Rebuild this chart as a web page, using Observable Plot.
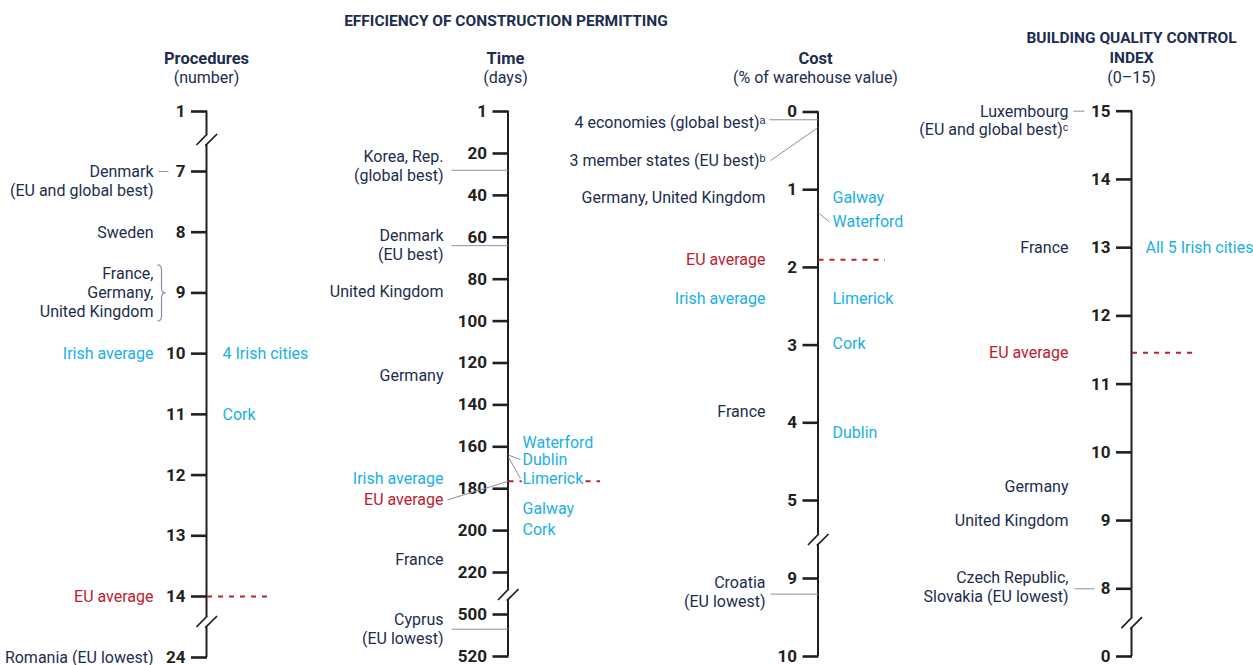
<!DOCTYPE html>
<html><head><meta charset="utf-8">
<script src="https://cdn.jsdelivr.net/npm/d3@7"></script>
<script src="https://cdn.jsdelivr.net/npm/@observablehq/plot@0.6"></script>
<style>
html,body{margin:0;padding:0;background:#fff;}
#chart{position:relative;width:1253px;height:665px;}
#chart svg{position:absolute;left:0;top:0;}
</style></head><body><div id="chart"></div>
<script>
// ================= DATA =================
const chartTitle = "EFFICIENCY OF CONSTRUCTION PERMITTING";
const panelTitles = ["Procedures", "Time", "Cost", "BUILDING QUALITY CONTROL\nINDEX"];
const panelUnits = ["(number)", "(days)", "(% of warehouse value)", "(0–15)"];

// Procedures (number)
const procTicks = [1, 7, 8, 9, 10, 11, 12, 13, 14, 24];
const procLeftText = ["Denmark\n(EU and global best)", "Sweden", "France,\nGermany,\nUnited Kingdom", "Irish average", "EU average", "Romania (EU lowest)"];
const procLeftValue = [7, 8, 9, 10, 14, 24];
const procLeftKind = ["economy", "economy", "economy", "irish", "eu", "economy"];
const procRightText = ["4 Irish cities", "Cork"];
const procRightValue = [10, 11];
const procEUAverage = 14;

// Time (days)
const timeTicks = [1, 20, 40, 60, 80, 100, 120, 140, 160, 180, 200, 220, 500, 520];
const timeLeftText = ["Korea, Rep.\n(global best)", "Denmark\n(EU best)", "United Kingdom", "Germany", "Irish average", "EU average", "France", "Cyprus\n(EU lowest)"];
const timeLeftValue = [28, 64, 86, 126, 175, 176.5, 214, 507];
const timeLeftKind = ["economy", "economy", "economy", "economy", "irish", "eu", "economy", "economy"];
const timeRightText = ["Waterford", "Dublin", "Limerick", "Galway", "Cork"];
const timeRightValue = [158, 164, 165, 190, 200];
const timeEUAverage = 176.5;

// Cost (% of warehouse value)
const costTicks = [0, 1, 2, 3, 4, 5, 9, 10];
const costLeftText = ["4 economies (global best)ᵃ", "3 member states (EU best)ᵇ", "Germany, United Kingdom", "EU average", "Irish average", "France", "Croatia\n(EU lowest)"];
const costLeftValue = [0.1, 0.2, 1.1, 1.9, 2.4, 3.9, 9.2];
const costLeftKind = ["economy", "economy", "economy", "eu", "irish", "economy", "economy"];
const costRightText = ["Galway", "Waterford", "Limerick", "Cork", "Dublin"];
const costRightValue = [1.1, 1.3, 2.4, 3.0, 4.1];
const costEUAverage = 1.9;

// Building quality control index (0–15)
const qualTicks = [15, 14, 13, 12, 11, 10, 9, 8, 0];
const qualLeftText = ["Luxembourg\n(EU and global best)ᶜ", "France", "EU average", "Germany", "United Kingdom", "Czech Republic,\nSlovakia (EU lowest)"];
const qualLeftValue = [15, 13, 11.46, 9.5, 9, 8];
const qualLeftKind = ["economy", "economy", "eu", "economy", "economy", "economy"];
const qualRightText = ["All 5 Irish cities"];
const qualRightValue = [13];
const qualEUAverage = 11.46;

// ================= LAYOUT / STYLE =================
const W = 1253, H = 665;
const FONT = "Roboto, 'Liberation Sans', sans-serif";
const FS = 16, LH = 19, TFS = 17;
const NAVY = "#1c2d4f", INK = "#231f20", BLUE = "#1aafe6", RED = "#c0202e", GREY = "#8a8ea6";
const kindColor = {economy: NAVY, irish: BLUE, eu: RED};

// each axis: break points (domain) and where they sit on the page (range)
const panels = [
  {
    ticks: procTicks, leftText: procLeftText, leftValue: procLeftValue, leftKind: procLeftKind,
    rightText: procRightText, rightValue: procRightValue, eu: procEUAverage,
    title: panelTitles[0], unit: panelUnits[0],
    L: {axisX: 206, headX: 206, leftX: 153, rightX: 222, domain: [1, 7, 14, 24], range: [111, 171, 596, 657],
        breaks: [3.8, 18.1], euEnd: 273,
        leftAnchor: ["first", "center", "center", "center", "center", "center"], leftDy: [0, 0, 0, 0, 0, 0], rightDy: [0, 0],
        leaders: [{side: "left", i: 0, x1: 158, x2: 168, diag: false}],
        brace: {value: 9, x: 161}}
  },
  {
    ticks: timeTicks, leftText: timeLeftText, leftValue: timeLeftValue, leftKind: timeLeftKind,
    rightText: timeRightText, rightValue: timeRightValue, eu: timeEUAverage,
    title: panelTitles[1], unit: panelUnits[1], mainTitle: chartTitle,
    L: {axisX: 507.5, headX: 505, leftX: 443, rightX: 522, domain: [1, 20, 220, 500, 520], range: [111, 153, 572, 614, 656],
        breaks: [366.7], euEnd: 600,
        leftAnchor: ["center", "center", "center", "center", "center", "center", "center", "center"],
        leftDy: [-4, 0, 0, 0, 0, 18.5, 0, 0], rightDy: [0, 4.3, 21.2, -1, -1],
        leaders: [
          {side: "left", i: 0, x1: 451, x2: 507.5, diag: false},
          {side: "left", i: 1, x1: 451, x2: 507.5, diag: false},
          {side: "left", i: 5, x1: 447, x2: 507.5, diag: true},
          {side: "left", i: 7, x1: 451, x2: 507.5, diag: false},
          {side: "right", i: 1, x1: 520, x2: 508, diag: true},
          {side: "right", i: 2, x1: 520, x2: 508, diag: true}
        ]}
  },
  {
    ticks: costTicks, leftText: costLeftText, leftValue: costLeftValue, leftKind: costLeftKind,
    rightText: costRightText, rightValue: costRightValue, eu: costEUAverage,
    title: panelTitles[2], unit: panelUnits[2],
    L: {axisX: 817.5, headX: 815, leftX: 765, rightX: 832, domain: [0, 5, 9, 10], range: [111.5, 500, 578, 656],
        breaks: [7], euEnd: 885,
        leftAnchor: ["center", "center", "center", "center", "center", "center", "center"],
        leftDy: [3, 33, 0, 0, 0, -3, -1.5], rightDy: [0, 9, 0, -1, 2],
        leaders: [
          {side: "left", i: 0, x1: 769, x2: 817.5, diag: false},
          {side: "left", i: 1, x1: 770, x2: 817.5, diag: true},
          {side: "left", i: 6, x1: 770, x2: 817.5, diag: false},
          {side: "right", i: 1, x1: 829, x2: 818, diag: true}
        ]}
  },
  {
    ticks: qualTicks, leftText: qualLeftText, leftValue: qualLeftValue, leftKind: qualLeftKind,
    rightText: qualRightText, rightValue: qualRightValue, eu: qualEUAverage,
    title: panelTitles[3], unit: panelUnits[3],
    L: {axisX: 1131, headX: 1131, leftX: 1068, rightX: 1145, domain: [15, 8, 0], range: [110.7, 588.3, 656],
        breaks: [4], euEnd: 1197,
        leftAnchor: ["first", "center", "center", "center", "center", "center"], leftDy: [0, 0, 0, 0, 0, -1.5], rightDy: [0],
        leaders: [
          {side: "left", i: 0, x1: 1073, x2: 1084, diag: false},
          {side: "left", i: 5, x1: 1074, x2: 1094, diag: false}
        ]}
  }
];

// custom symbols (scale-break slashes, mask and brace)
const breakSlash = {draw(ctx) { ctx.moveTo(-10, 5.5); ctx.lineTo(0.8, -5.7); ctx.moveTo(-1.2, 6.2); ctx.lineTo(10.6, -5.5); }};
const breakMask = {draw(ctx) { ctx.moveTo(-3, -5.6); ctx.lineTo(3, -5.6); ctx.lineTo(3, 5); ctx.lineTo(-3, 5); ctx.closePath(); }};
const braceSym = {draw(ctx) {
  ctx.moveTo(-4, -28); ctx.quadraticCurveTo(0, -28, 0, -23); ctx.lineTo(0, -5);
  ctx.quadraticCurveTo(0, 0, 4, 0); ctx.quadraticCurveTo(0, 0, 0, 5); ctx.lineTo(0, 23);
  ctx.quadraticCurveTo(0, 28, -4, 28);
}};

function buildPanel(p) {
  const L = p.L, AX = L.axisX;
  const top = L.range[0], bottom = L.range[L.range.length - 1];
  // broken-axis transform: data value -> fraction of the axis length (0 top, 1 bottom)
  const brk = d3.scaleLinear().domain(L.domain).range(L.range.map(r => (r - top) / (bottom - top)));
  const px = d3.scaleLinear().domain(L.domain).range(L.range);
  const place = (v, off) => off ? px.invert(px(v) + off) : v;

  const left = p.leftText.map((t, i) => {
    const n = t.split("\n").length;
    const off = (L.leftDy[i] || 0) - (L.leftAnchor[i] === "center" ? (n - 1) * LH / 2 : 0);
    return {text: t, value: p.leftValue[i], color: kindColor[p.leftKind[i]], at: place(p.leftValue[i], off)};
  });
  const right = p.rightText.map((t, i) => ({text: t, value: p.rightValue[i], color: BLUE, at: place(p.rightValue[i], L.rightDy[i] || 0)}));
  const leaders = L.leaders.map(l => {
    const lab = (l.side === "left" ? left : right)[l.i];
    return {x1: l.x1, x2: l.x2, y1: l.diag ? lab.at : lab.value, y2: lab.value};
  });
  const span = [d3.min(p.ticks), d3.max(p.ticks)];
  const textDy = -8.2;

  const marks = [
    // header
    Plot.text([p.title], {x: L.headX, frameAnchor: "top", text: d => d, lineAnchor: "top",
      dy: 55 - (p.title.split("\n").length - 1) * 20 - 0.39 * 16, fontSize: p.title === p.title.toUpperCase() ? 15.5 : 16.5,
      fontWeight: 700, fill: NAVY, lineHeight: 20 / 15.5}),
    Plot.text([p.unit], {x: L.headX, frameAnchor: "top", text: d => d, lineAnchor: "top", dy: 77 - 0.39 * 16, fontSize: 16, fill: NAVY}),
    // axis line
    Plot.ruleX([span], {x: AX, y1: d => d[0], y2: d => d[1], stroke: INK, strokeWidth: 2}),
    // ticks
    Plot.ruleY(p.ticks, {y: d => d, x1: AX - 15, x2: AX + 1, stroke: INK, strokeWidth: 2.6}),
    Plot.text(p.ticks, {y: d => d, x: AX - 21, text: d => String(d), textAnchor: "end", fontSize: TFS, fontWeight: 700, fill: INK}),
    // scale breaks
    Plot.dot(L.breaks, {x: AX, y: d => d, symbol: breakMask, fill: "white", stroke: "none", r: 5}),
    Plot.dot(L.breaks, {x: AX, y: d => d, symbol: breakSlash, fill: "none", stroke: INK, strokeWidth: 1.7, r: 5}),
    // EU average
    Plot.ruleY([p.eu], {y: d => d, x1: AX + 1, x2: L.euEnd, stroke: RED, strokeWidth: 2, strokeDasharray: "5,6"}),
    // labels
    Plot.text(left, {x: L.leftX, y: "at", text: "text", fill: "color", textAnchor: "end", lineAnchor: "top", dy: textDy,
      lineHeight: LH / FS, fontSize: FS}),
    Plot.text(right, {x: L.rightX, y: "at", text: "text", fill: "color", textAnchor: "start", lineAnchor: "top", dy: textDy,
      lineHeight: LH / FS, fontSize: FS, stroke: "white", strokeWidth: 4, paintOrder: "stroke"}),
    Plot.link(leaders, {x1: "x1", y1: "y1", x2: "x2", y2: "y2", stroke: GREY, strokeWidth: 1})
  ];
  if (L.brace) marks.push(Plot.dot([L.brace], {x: "x", y: "value", symbol: braceSym, fill: "none", stroke: GREY, strokeWidth: 1.2, r: 5}));
  if (p.mainTitle) marks.push(Plot.text([p.mainTitle], {x: 505.5, frameAnchor: "top", text: d => d, lineAnchor: "top",
    dy: 21 - 0.39 * 15.5, fontSize: 15.5, fontWeight: 700, fill: NAVY}));

  return Plot.plot({
    width: W, height: H, margin: 0,
    x: {domain: [0, W], range: [0, W], axis: null},
    y: {transform: brk, domain: [0, 1], range: [top, bottom], axis: null},
    color: {type: "identity"},
    style: {background: "transparent", overflow: "visible", fontFamily: FONT},
    marks
  });
}

const root = document.getElementById("chart");
for (const p of panels) root.appendChild(buildPanel(p));
</script></body></html>
